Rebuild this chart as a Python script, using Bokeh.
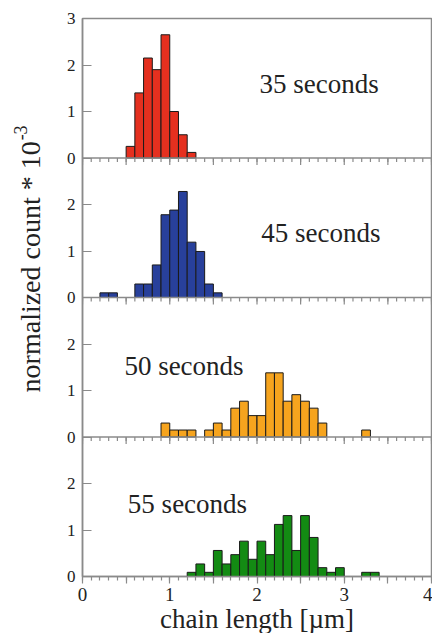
import numpy as np
from bokeh.plotting import figure
from bokeh.layouts import row
from bokeh.models import Range1d, FixedTicker, LinearAxis, Span
from bokeh.core.properties import value
from bokeh.embed import file_html
from bokeh.resources import INLINE

FONT = "Liberation Serif, Times New Roman, serif"
GRAY = "#8a8a8a"
TXT = "#222222"
BIN_WIDTH = 0.1

# ---------------- data ----------------
panel_titles = ["35 seconds", "45 seconds", "50 seconds", "55 seconds"]

centers_35 = [0.55, 0.65, 0.75, 0.85, 0.95, 1.05, 1.15, 1.25]
counts_35 = [0.25, 1.40, 2.15, 1.90, 2.65, 1.00, 0.50, 0.12]

centers_45 = [0.25, 0.35, 0.65, 0.75, 0.85, 0.95, 1.05, 1.15, 1.25, 1.35, 1.45, 1.55]
counts_45 = [0.10, 0.10, 0.29, 0.29, 0.70, 1.78, 1.88, 2.28, 1.19, 0.99, 0.29, 0.10]

centers_50 = [0.95, 1.05, 1.15, 1.25, 1.45, 1.55, 1.65, 1.75, 1.85, 1.95, 2.05,
              2.15, 2.25, 2.35, 2.45, 2.55, 2.65, 2.75, 3.25]
counts_50 = [0.30, 0.15, 0.15, 0.15, 0.15, 0.30, 0.15, 0.62, 0.77, 0.46, 0.46,
             1.38, 1.38, 0.77, 0.91, 0.77, 0.62, 0.30, 0.15]

centers_55 = [1.25, 1.35, 1.45, 1.55, 1.65, 1.75, 1.85, 1.95, 2.05, 2.15, 2.25,
              2.35, 2.45, 2.55, 2.65, 2.75, 2.85, 2.95, 3.25, 3.35]
counts_55 = [0.09, 0.27, 0.09, 0.56, 0.27, 0.47, 0.76, 0.37, 0.76, 0.47, 1.12,
             1.31, 0.56, 1.31, 0.84, 0.19, 0.09, 0.19, 0.09, 0.09]

bar_colors = ["#e5301f", "#28409b", "#f6a41e", "#138b13"]

# title label positions (data units of each panel)
title_x = [2.03, 2.05, 0.48, 0.52]
title_y = [1.60, 1.39, 1.53, 1.55]

x_major_ticks = [0, 0.5, 1, 1.5, 2, 2.5, 3, 3.5, 4]
x_minor_ticks = [round(0.1 * k, 1) for k in range(41)]
x_tick_labels = {0.5: "", 1.5: "", 2.5: "", 3.5: ""}

# stacked panels share one frame: each panel spans 3 count units
y_stack_ticks = list(range(13))
y_tick_labels = ["0", "1", "2", "0", "1", "2", "0", "1", "2", "0", "1", "2", "3"]

x_label = "chain length [\u00b5m]"
y_label = "normalized count * 10"
y_label_exp = "-3"

series = [
    ("p35", centers_35, counts_35),
    ("p45", centers_45, counts_45),
    ("p50", centers_50, counts_50),
    ("p55", centers_55, counts_55),
]

FRAME_W = 349
FRAME_H = 558
LEFT = 36
TOP = 18
LAB_W = 46
TOTAL_H = 633

p = figure(
    frame_width=FRAME_W, frame_height=FRAME_H,
    x_range=Range1d(0, 4), y_range=Range1d(0, 12),
    output_backend="svg", toolbar_location=None,
    x_axis_location=None, y_axis_location=None,
    min_border_left=LEFT, min_border_right=1,
    min_border_top=TOP, min_border_bottom=0,
)
p.xgrid.visible = False
p.ygrid.visible = False
p.outline_line_color = GRAY
p.outline_line_width = 1.5

n_panels = len(series)
for i, (name, cx, cy) in enumerate(series):
    lo = -3 * (n_panels - 1 - i)
    p.extra_y_ranges[name] = Range1d(lo, lo + 12)

# left axis with per-panel tick labels
yax = LinearAxis(
    ticker=FixedTicker(ticks=y_stack_ticks),
    major_label_overrides={t: s for t, s in zip(y_stack_ticks, y_tick_labels)},
    major_tick_in=9, major_tick_out=0, minor_tick_in=0, minor_tick_out=0,
    axis_line_color=GRAY, axis_line_width=1.5,
    major_tick_line_color=GRAY, major_tick_line_width=1.2,
    major_label_text_font=FONT, major_label_text_font_size="17px",
    major_label_text_color=TXT, major_label_standoff=7,
)
p.add_layout(yax, "left")

# bottom axis
xax = LinearAxis(
    ticker=FixedTicker(ticks=x_major_ticks, minor_ticks=x_minor_ticks),
    major_label_overrides=x_tick_labels,
    axis_line_color=GRAY, axis_line_width=1.5,
    major_tick_line_color=GRAY, minor_tick_line_color=GRAY,
    major_tick_line_width=1.2, minor_tick_line_width=1.2,
    major_tick_in=0, major_tick_out=7, minor_tick_in=0, minor_tick_out=4,
    major_label_text_font=FONT, major_label_text_font_size="19px",
    major_label_text_color=TXT, major_label_standoff=4,
    axis_label=x_label, axis_label_text_font=FONT,
    axis_label_text_font_size="27px", axis_label_text_font_style="normal",
    axis_label_text_color=TXT, axis_label_standoff=0,
)
p.add_layout(xax, "below")

for i, (name, cx, cy) in enumerate(series):
    p.vbar(x=cx, top=cy, bottom=0, width=BIN_WIDTH, y_range_name=name,
           fill_color=bar_colors[i], line_color="#1a1a1a", line_width=1)
    p.text(x=[title_x[i]], y=[title_y[i]], text=[panel_titles[i]], y_range_name=name,
           text_font=value(FONT), text_font_size="27px",
           text_color=TXT, text_baseline="alphabetic", text_align="left")
    if i < n_panels - 1:
        # the panel's own x-axis line with downward ticks
        p.add_layout(Span(location=0, dimension="width", y_range_name=name,
                          line_color=GRAY, line_width=1.5))
        p.ray(x=x_minor_ticks, y=[0] * len(x_minor_ticks), length=4,
              length_units="screen", angle=-np.pi / 2, y_range_name=name,
              line_color=GRAY, line_width=1.2)
        p.ray(x=x_major_ticks, y=[0] * len(x_major_ticks), length=7,
              length_units="screen", angle=-np.pi / 2, y_range_name=name,
              line_color=GRAY, line_width=1.2)

# narrow figure holding the shared y-axis label
lab = figure(width=LAB_W, height=TOTAL_H, x_range=Range1d(0, LAB_W), y_range=Range1d(0, TOTAL_H),
             output_backend="svg", toolbar_location=None,
             x_axis_location=None, y_axis_location=None,
             min_border=0, outline_line_color=None)
lab.xgrid.visible = False
lab.ygrid.visible = False
lab.text(x=[30], y=[TOTAL_H - 140], text=[y_label], angle=np.pi / 2,
         text_font=value(FONT), text_font_size="28px", text_color=TXT,
         text_align="right", text_baseline="middle")
lab.text(x=[20], y=[TOTAL_H - 139], text=[y_label_exp], angle=np.pi / 2,
         text_font=value(FONT), text_font_size="18px", text_color=TXT,
         text_align="left", text_baseline="middle")

layout = row(lab, p, spacing=0)

with open("out.html", "w") as f:
    f.write(file_html(layout, INLINE))
